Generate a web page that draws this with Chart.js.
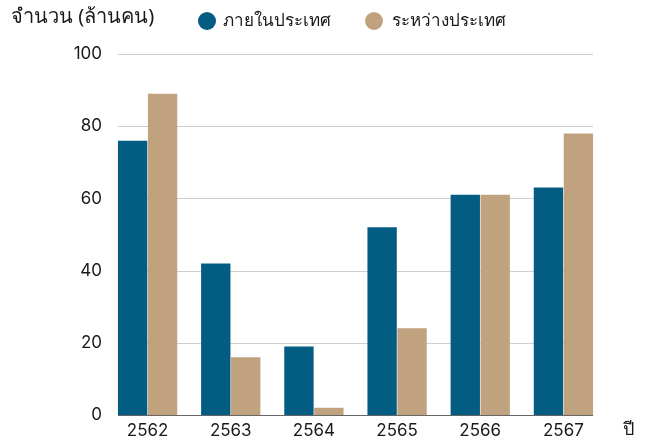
<!DOCTYPE html>
<html>
<head>
<meta charset="utf-8">
<script src="https://cdn.jsdelivr.net/npm/chart.js@4"></script>
<style>
  html, body { margin: 0; padding: 0; background: #fff; }
  #wrap { position: relative; width: 647px; height: 442px; font-family: "Noto Sans", "DejaVu Sans", sans-serif; color: #1a1a1a; }
  canvas { position: absolute; left: 0; top: 0; }
  .txt { position: absolute; white-space: nowrap; font-size: 18px; line-height: 1; }
  .dot { position: absolute; width: 18px; height: 18px; border-radius: 50%; }
</style>
</head>
<body>
<div id="wrap">
  <canvas id="tourChart" width="647" height="442"></canvas>
  <div class="txt" style="left:11px; top:6px; font-size:20px;">จำนวน (ล้านคน)</div>
  <div class="dot" style="left:198px; top:12px; background:#035c82;"></div>
  <div class="txt" style="left:223px; top:11px; font-size:17px;">ภายในประเทศ</div>
  <div class="dot" style="left:365px; top:12px; background:#c1a27e;"></div>
  <div class="txt" style="left:392px; top:11px; font-size:17px;">ระหว่างประเทศ</div>
  <div class="txt" style="left:623px; top:419px;">ปี</div>
</div>
<script>
const years = ['2562', '2563', '2564', '2565', '2566', '2567'];
const domestic = [76, 42, 19, 52, 61, 63];
const international = [89, 16, 2, 24, 61, 78];
const yTicks = [0, 20, 40, 60, 80, 100];

// grid lines only span the bars, so draw them ourselves
const barGrid = {
    id: 'barGrid',
    beforeDatasetsDraw(chart) {
        const c = chart.ctx;
        const y = chart.scales.y;
        const first = chart.getDatasetMeta(0).data[0];
        const last = chart.getDatasetMeta(1).data[years.length - 1];
        const x0 = first.x - first.width / 2;
        const x1 = last.x + last.width / 2;
        c.save();
        c.lineWidth = 1;
        c.strokeStyle = '#cfcfcf';
        yTicks.forEach(v => {
            if (v === 0) return;
            const py = Math.round(y.getPixelForValue(v)) + 0.5;
            c.beginPath(); c.moveTo(x0, py); c.lineTo(x1, py); c.stroke();
        });
        c.restore();
    },
    afterDatasetsDraw(chart) {
        const c = chart.ctx;
        const y = chart.scales.y;
        const first = chart.getDatasetMeta(0).data[0];
        const last = chart.getDatasetMeta(1).data[years.length - 1];
        const py = Math.round(y.getPixelForValue(0)) + 0.5;
        c.save();
        c.lineWidth = 1;
        c.strokeStyle = '#666';
        c.beginPath();
        c.moveTo(first.x - first.width / 2, py);
        c.lineTo(last.x + last.width / 2, py);
        c.stroke();
        c.restore();
    }
};

const ctx = document.getElementById('tourChart').getContext('2d');

const tourChart = new Chart(ctx, {
    type: 'bar',
    data: {
        labels: years,
        datasets: [{
            label: 'ภายในประเทศ',
            data: domestic,
            backgroundColor: '#035c82',
            barPercentage: 0.98,
            categoryPercentage: 0.72
        }, {
            label: 'ระหว่างประเทศ',
            data: international,
            backgroundColor: '#c1a27e',
            barPercentage: 0.98,
            categoryPercentage: 0.72
        }]
    },
    options: {
        responsive: false,
        animation: false,
        layout: { padding: { top: 54, right: 42, bottom: 0, left: 0 } },
        scales: {
            y: {
                min: 0,
                max: 100,
                afterFit(scale) { scale.width = 106; },
                afterBuildTicks(scale) { scale.ticks = yTicks.map(v => ({ value: v })); },
                ticks: { color: '#1a1a1a', padding: 4, font: { size: 17, family: 'Inter, "Noto Sans", sans-serif' } },
                grid: { display: false, drawTicks: false },
                border: { display: false }
            },
            x: {
                afterFit(scale) { scale.height = 27; },
                ticks: { color: '#1a1a1a', padding: 6, font: { size: 17, family: 'Inter, "Noto Sans", sans-serif' } },
                grid: { display: false, drawTicks: false },
                border: { display: false }
            }
        },
        plugins: {
            legend: { display: false },
            tooltip: { enabled: false }
        }
    },
    plugins: [barGrid]
});
</script>
</body>
</html>
